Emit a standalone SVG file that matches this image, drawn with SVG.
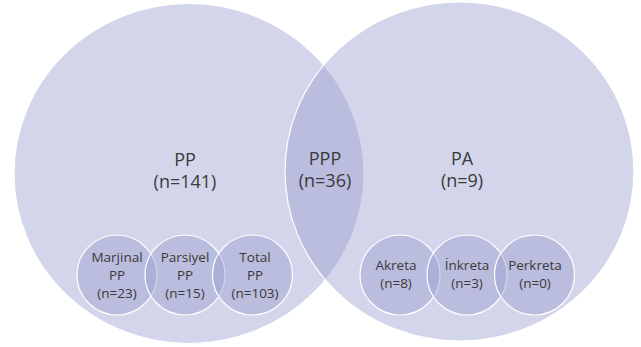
<svg xmlns="http://www.w3.org/2000/svg" width="641" height="347" viewBox="0 0 641 347">
<style>
.c{fill:#999ece;fill-opacity:0.43;stroke:#ffffff;stroke-width:1.2}
.t{font-family:"Open Sans","Noto Sans","Liberation Sans",sans-serif;fill:#3a3a3a;text-anchor:middle}
.big{font-size:18px}
.sm{font-size:13.5px}
</style>
<rect width="641" height="347" fill="#ffffff"/>
<g id="pp">
<ellipse class="c" cx="189" cy="173.5" rx="175" ry="170"/>
</g>
<g id="pa">
<ellipse class="c" cx="459.5" cy="171.5" rx="174.5" ry="169.5"/>
</g>
<g id="labels-big">
<text class="t big" x="185" y="166">PP</text>
<text class="t big" x="185" y="188">(n=141)</text>
<text class="t big" x="325" y="165">PPP</text>
<text class="t big" x="325" y="187">(n=36)</text>
<text class="t big" x="462" y="165">PA</text>
<text class="t big" x="462" y="187">(n=9)</text>
</g>
<g id="marjinal">
<circle class="c" cx="117" cy="275" r="40"/>
</g>
<g id="parsiyel">
<circle class="c" cx="185" cy="275" r="40"/>
</g>
<g id="total">
<circle class="c" cx="252.5" cy="275" r="40"/>
</g>
<g id="akreta">
<circle class="c" cx="400" cy="275" r="40"/>
</g>
<g id="inkreta">
<circle class="c" cx="467" cy="275" r="40"/>
</g>
<g id="perkreta">
<circle class="c" cx="534.5" cy="275" r="40"/>
</g>
<g id="labels-small">
<text class="t sm" x="117" y="262">Marjinal</text>
<text class="t sm" x="117" y="280">PP</text>
<text class="t sm" x="117" y="298">(n=23)</text>
<text class="t sm" x="185" y="262">Parsiyel</text>
<text class="t sm" x="185" y="280">PP</text>
<text class="t sm" x="185" y="298">(n=15)</text>
<text class="t sm" x="255" y="262">Total</text>
<text class="t sm" x="255" y="280">PP</text>
<text class="t sm" x="255" y="298">(n=103)</text>
<text class="t sm" x="396" y="270">Akreta</text>
<text class="t sm" x="396" y="288">(n=8)</text>
<text class="t sm" x="467" y="270">İnkreta</text>
<text class="t sm" x="467" y="288">(n=3)</text>
<text class="t sm" x="535" y="270">Perkreta</text>
<text class="t sm" x="535" y="288">(n=0)</text>
</g>
<g id="connectors"></g>
</svg>
